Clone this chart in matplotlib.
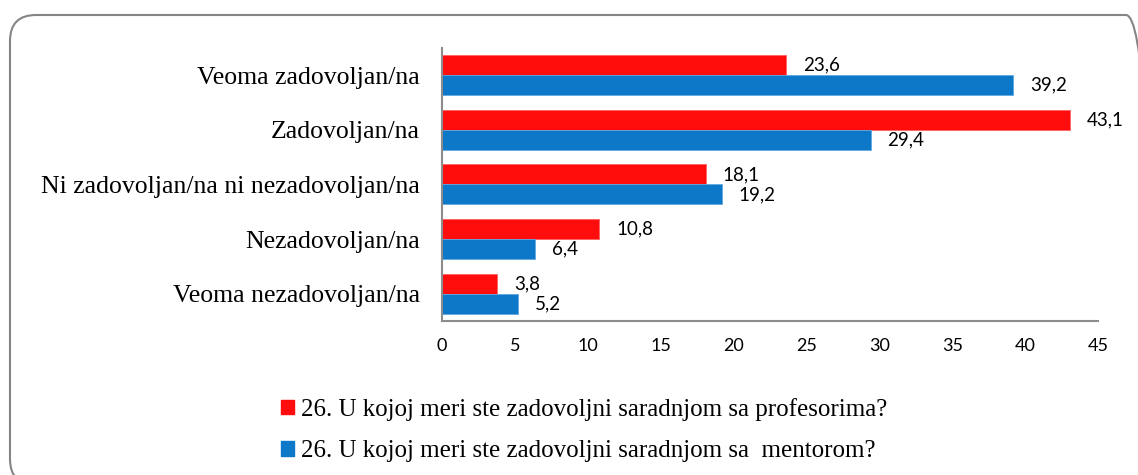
import numpy as np
import matplotlib.pyplot as plt
from matplotlib.patches import FancyBboxPatch, Patch

categories = ["Veoma nezadovoljan/na", "Nezadovoljan/na",
              "Ni zadovoljan/na ni nezadovoljan/na", "Zadovoljan/na",
              "Veoma zadovoljan/na"]
profesori = [3.8, 10.8, 18.1, 43.1, 23.6]
mentor = [5.2, 6.4, 19.2, 29.4, 39.2]
series_names = ["26. U kojoj meri ste zadovoljni saradnjom sa profesorima?",
                "26. U kojoj meri ste zadovoljni saradnjom sa  mentorom?"]
xticks = [0, 5, 10, 15, 20, 25, 30, 35, 40, 45]

red = "#FF0D0D"
blue = "#0D77C8"

fig = plt.figure(figsize=(11.38, 4.75), dpi=100)
# rounded chart frame (runs past the right and bottom edges)
fig.patches.append(FancyBboxPatch((0.10, -0.10), 11.42, 4.70,
                                  boxstyle="round,pad=0,rounding_size=0.26",
                                  transform=fig.dpi_scale_trans, fill=False,
                                  edgecolor="#858585", linewidth=1.5))
ax = fig.add_axes([0.3884, 0.3242, 0.5765, 0.575])

y = np.arange(len(categories))
h = 0.367
ax.barh(y + h / 2, profesori, height=h, color=red, edgecolor="#FF6060", linewidth=0.6)
ax.barh(y - h / 2, mentor, height=h, color=blue, edgecolor="#5FA8E0", linewidth=0.6)

lab_font = dict(family="Lato", fontsize=13.5)
for yi, v in zip(y, profesori):
    ax.annotate(f"{v:.1f}".replace(".", ","), (v, yi + h / 2), xytext=(12, 0),
                textcoords="offset points", va="center", ha="left", **lab_font)
for yi, v in zip(y, mentor):
    ax.annotate(f"{v:.1f}".replace(".", ","), (v, yi - h / 2), xytext=(12, 0),
                textcoords="offset points", va="center", ha="left", **lab_font)

ax.set_xlim(0, 45)
ax.set_ylim(-0.5, 4.5)
ax.set_xticks(xticks)
ax.set_xticklabels([str(t) for t in xticks], fontfamily="Lato", fontsize=13)
ax.set_yticks(y)
ax.set_yticklabels(categories, fontfamily="Liberation Serif", fontsize=18.5)
ax.tick_params(axis="both", length=0)
ax.tick_params(axis="x", pad=12)
ax.tick_params(axis="y", pad=16)
for s in ["top", "right"]:
    ax.spines[s].set_visible(False)
for s in ["left", "bottom"]:
    ax.spines[s].set_color("#8C8C8C")
    ax.spines[s].set_linewidth(1.5)

handles = [Patch(color=red), Patch(color=blue)]
fig.legend(handles, series_names, loc="upper left", bbox_to_anchor=(0.227, 0.21),
           frameon=False, prop=dict(family="Liberation Serif", size=18),
           handlelength=0.52, handleheight=0.52, handletextpad=0.3, labelspacing=0.78)

fig.savefig("out.png", dpi=100)
